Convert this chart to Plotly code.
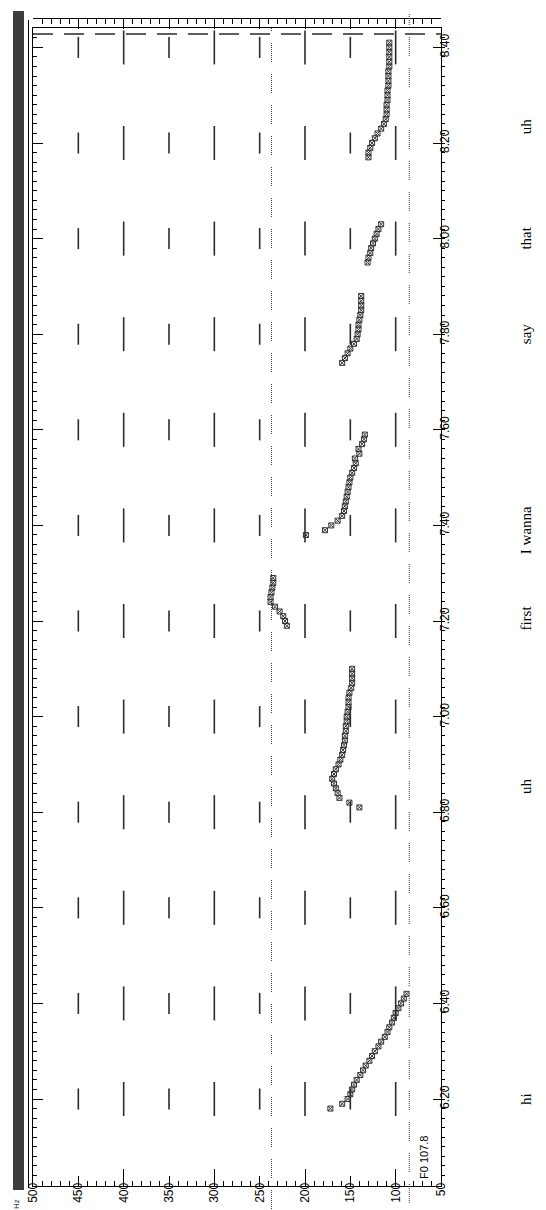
import plotly.graph_objects as go

# ---------------- data ----------------
hz_ticks = [500, 450, 400, 350, 300, 250, 200, 150, 100, 50]
grid_hz_long = [400, 300, 200, 100]
grid_hz_short = [450, 350, 250, 150]
grid_times = [6.2, 6.4, 6.6, 6.8, 7.0, 7.2, 7.4, 7.6, 7.8, 8.0, 8.2, 8.4]

hi_t = [6.18, 6.19, 6.20, 6.21, 6.22, 6.23, 6.24, 6.25, 6.26, 6.27, 6.28, 6.29, 6.30,
        6.31, 6.32, 6.33, 6.34, 6.35, 6.36, 6.37, 6.38, 6.39, 6.40, 6.41, 6.42]
hi_f = [172, 159, 153, 150, 148, 146, 143, 139, 136, 133, 129, 126, 123,
        119, 116, 112, 109, 107, 104, 102, 100, 97, 94, 91, 88]

uh1_t = [6.81, 6.82, 6.83, 6.84, 6.85, 6.86, 6.87, 6.88, 6.89, 6.90, 6.91, 6.92, 6.93, 6.94, 6.95,
         6.96, 6.97, 6.98, 6.99, 7.00, 7.01, 7.02, 7.03, 7.04, 7.05, 7.06, 7.07, 7.08, 7.09, 7.10]
uh1_f = [140, 151, 162, 164, 166, 168, 170, 168, 166, 163, 161, 159, 158, 157, 156,
         156, 155, 155, 154, 154, 153, 152, 152, 152, 151, 149, 148, 148, 148, 148]

first_t = [7.19, 7.20, 7.21, 7.22, 7.23, 7.24, 7.25, 7.26, 7.27, 7.28, 7.29]
first_f = [220, 222, 224, 228, 233, 238, 238, 237, 236, 235, 235]

wanna_t = [7.38, 7.39, 7.40, 7.41, 7.42, 7.43, 7.44, 7.45, 7.46, 7.47, 7.48, 7.49, 7.50,
           7.51, 7.52, 7.53, 7.54, 7.55, 7.56, 7.57, 7.58, 7.59]
wanna_f = [199, 178, 171, 164, 159, 157, 156, 155, 154, 153, 152, 151, 150,
           148, 146, 144, 145, 140, 141, 137, 135, 134]

say_t = [7.74, 7.75, 7.76, 7.77, 7.78, 7.79, 7.80, 7.81, 7.82, 7.83, 7.84, 7.85, 7.86, 7.87, 7.88]
say_f = [159, 156, 153, 150, 146, 143, 142, 141, 141, 140, 139, 138, 138, 138, 138]

that_t = [7.95, 7.96, 7.97, 7.98, 7.99, 8.00, 8.01, 8.02, 8.03]
that_f = [131, 130, 128, 127, 125, 123, 121, 119, 116]

uh2_t = [8.17, 8.18, 8.19, 8.20, 8.21, 8.22, 8.23, 8.24, 8.25, 8.26, 8.27, 8.28, 8.29,
         8.30, 8.31, 8.32, 8.33, 8.34, 8.35, 8.36, 8.37, 8.38, 8.39, 8.40, 8.41]
uh2_f = [130, 130, 128, 126, 123, 120, 116, 113, 111, 110, 110, 110, 109,
         109, 109, 108, 108, 108, 108, 107, 107, 107, 107, 107, 107]

words = ["hi", "uh", "first", "I wanna", "say", "that", "uh"]
word_t = [6.20, 6.855, 7.205, 7.39, 7.80, 8.00, 8.235]

ref_lines_hz = [237, 85]
cursor_t = 8.428
readout = "F0 107.8"

t_range = [6.018, 8.4406]
hz_range = [500, 50]

# ---------------- styles ----------------
HALF_LONG = 0.0356
HALF_SHORT = 0.022
INK = "#2a2a2a"
DOT_CHUNK = ",".join(["1px,1px"] * 9) + ",1px,12px"

gx, gy = [], []
for t in grid_times:
    for h in grid_hz_long:
        gx += [h, h, None]
        gy += [t - HALF_LONG, t + HALF_LONG, None]
    for h in grid_hz_short:
        gx += [h, h, None]
        gy += [t - HALF_SHORT, t + HALF_SHORT, None]

all_t = hi_t + uh1_t + first_t + wanna_t + say_t + that_t + uh2_t
all_f = hi_f + uh1_f + first_f + wanna_f + say_f + that_f + uh2_f

fig = go.Figure()
fig.add_trace(go.Scatter(x=gx, y=gy, mode="lines", line=dict(color=INK, width=1.6),
                         hoverinfo="skip", showlegend=False))
fig.add_trace(go.Scatter(x=all_f, y=all_t, mode="markers",
                         marker=dict(symbol="square-x-open", size=5, color="#333",
                                     line=dict(width=1, color="#333")),
                         showlegend=False))
fig.add_trace(go.Scatter(x=[None], y=[None], xaxis="x2", yaxis="y", showlegend=False))
fig.add_trace(go.Scatter(x=[None], y=[None], xaxis="x3", yaxis="y", showlegend=False))
fig.add_trace(go.Scatter(x=[None], y=[None], xaxis="x", yaxis="y2", showlegend=False))

ML, MR, MT, MB = 25, 113, 10, 32
W, H = 546, 1210
PW = W - ML - MR
PH = H - MT - MB
ydom_top = (PH - 10) / PH


def px_x(p):
    return (p - ML) / PW


def px_y(p):
    return (H - MB - p) / PH


tickfont = dict(family="Liberation Sans, Arial, sans-serif", size=12, color="black")

fig.update_layout(
    width=W, height=H,
    margin=dict(l=ML, r=MR, t=MT, b=MB, autoexpand=False),
    paper_bgcolor="white", plot_bgcolor="white", showlegend=False,
    xaxis=dict(range=hz_range, domain=[0, 1], anchor="y", showline=True, linecolor="black",
               linewidth=1, mirror=True, ticks="inside", ticklen=10, tickcolor="black",
               tick0=0, dtick=50, tickangle=-90, tickfont=tickfont, ticklabelstandoff=-9,
               minor=dict(ticks="inside", ticklen=5, dtick=10, tickcolor="black", showgrid=False),
               showgrid=False, zeroline=False, fixedrange=True),
    xaxis2=dict(range=hz_range, overlaying="x", anchor="free", position=1, side="top",
                showline=True, linecolor="black", linewidth=1, ticks="inside", ticklen=10,
                tickcolor="black", tick0=0, dtick=50, showticklabels=False,
                minor=dict(ticks="inside", ticklen=5, dtick=10, tickcolor="black", showgrid=False),
                showgrid=False, zeroline=False),
    xaxis3=dict(range=hz_range, overlaying="x", anchor="y", side="bottom", showline=False,
                ticks="inside", ticklen=17, tickcolor="black", tickmode="array",
                tickvals=grid_hz_long, showticklabels=False, showgrid=False, zeroline=False),
    yaxis=dict(range=t_range, domain=[0, ydom_top], anchor="x", side="right", showline=True,
               linecolor="black", linewidth=1, ticks="inside", ticklen=8, tickcolor="black",
               tick0=6.2, dtick=0.2, tickformat=".2f", tickangle=-90, tickfont=tickfont,
               ticklabelstandoff=-7,
               minor=dict(ticks="outside", ticklen=3, dtick=0.02, tickcolor="black", showgrid=False),
               showgrid=False, zeroline=False),
    yaxis2=dict(range=t_range, overlaying="y", anchor="x", side="left", showline=True,
                linecolor="black", linewidth=1, ticks="inside", ticklen=10, tickcolor="black",
                tick0=6.2, dtick=0.2, showticklabels=False,
                minor=dict(ticks="inside", ticklen=4, dtick=0.02, tickcolor="black", showgrid=False),
                showgrid=False, zeroline=False),
)

shapes = []
shapes.append(dict(type="rect", xref="paper", yref="paper", x0=px_x(5), x1=px_x(16),
                   y0=px_y(1182), y1=px_y(3), fillcolor="#3d3d3d", line=dict(width=0), layer="above"))
shapes.append(dict(type="line", xref="paper", yref="paper", x0=px_x(20.5), x1=px_x(20.5),
                   y0=px_y(1180), y1=px_y(12), line=dict(color="black", width=1)))
ext = [(px_y(1201), ydom_top), (px_y(1195), px_y(5))]
for h, (y0, y1) in zip(ref_lines_hz, ext):
    shapes.append(dict(type="line", xref="x", yref="paper", x0=h, x1=h, y0=y0, y1=y1,
                       line=dict(color="#333", width=1, dash=DOT_CHUNK)))
shapes.append(dict(type="line", xref="x", yref="y", x0=hz_range[0], x1=hz_range[1],
                   y0=cursor_t, y1=cursor_t, line=dict(color=INK, width=1.3, dash="20px,11px")))
fig.update_layout(shapes=shapes)

ann = []
for w, t in zip(words, word_t):
    ann.append(dict(text=w, xref="paper", yref="y", x=px_x(518), y=t, showarrow=False,
                    textangle=-90, xanchor="center", yanchor="middle",
                    font=dict(family="Liberation Serif, Times New Roman, serif", size=15, color="black")))
ann.append(dict(text=readout, xref="paper", yref="paper", x=px_x(416), y=px_y(1150),
                showarrow=False, textangle=-90, xanchor="center", yanchor="middle",
                font=dict(family="Liberation Sans, Arial, sans-serif", size=11, color="black")))
ann.append(dict(text="Hz", xref="paper", yref="paper", x=px_x(8), y=px_y(1196),
                showarrow=False, textangle=-90, xanchor="center", yanchor="middle",
                font=dict(family="Liberation Sans, Arial, sans-serif", size=8, color="#333")))
fig.update_layout(annotations=ann)

fig.write_html("out.html")
